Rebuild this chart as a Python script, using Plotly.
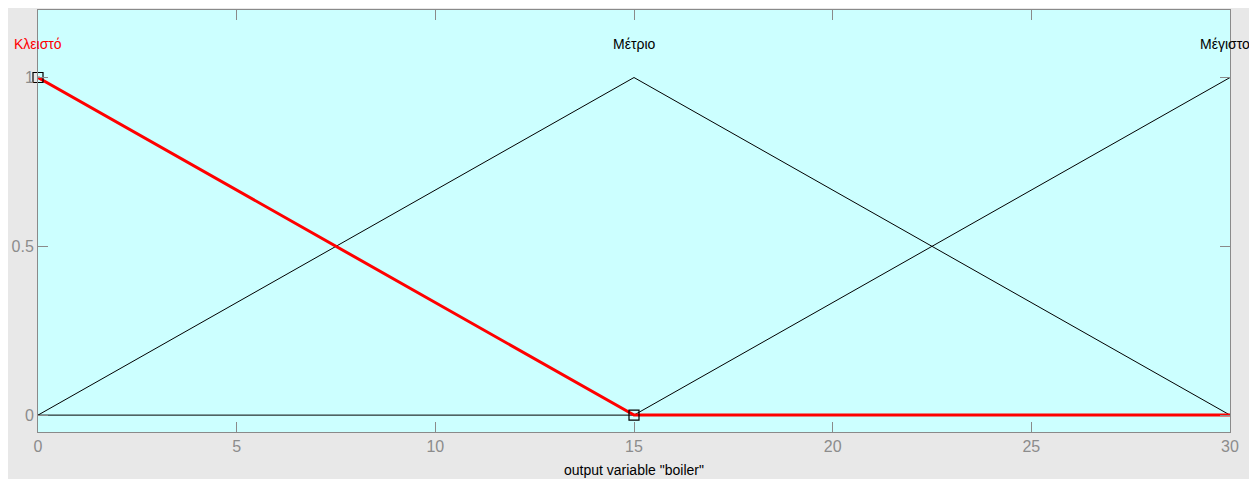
import plotly.graph_objects as go

# Data
x_points = [0, 15, 30]
mf_names = ["Κλειστό", "Μέτριο", "Μέγιστο"]
kleisto = [1, 0, 0]
metrio = [0, 1, 0]
megisto = [0, 0, 1]
label_x = [0, 15, 30]
label_y = 1.1
x_ticks = [0, 5, 10, 15, 20, 25, 30]
y_ticks = [0, 0.5, 1]
y_tick_text = ["0", "0.5", "1"]
x_title = 'output variable "boiler"'

# page body has an 8px margin
W, H = 1249, 471
L, R, T, B = 30, 27, 2, 47
pw, ph = W - L - R, H - T - B
FONT = "Liberation Sans, Arial"

fig = go.Figure()
fig.add_trace(go.Scatter(x=x_points, y=metrio, mode="lines",
                         line=dict(color="black", width=1), showlegend=False))
fig.add_trace(go.Scatter(x=x_points, y=megisto, mode="lines",
                         line=dict(color="black", width=1), showlegend=False))
fig.add_trace(go.Scatter(x=x_points, y=kleisto, mode="lines",
                         line=dict(color="red", width=3), showlegend=False))
fig.add_trace(go.Scatter(x=x_points[:2], y=kleisto[:2], mode="markers",
                         marker=dict(symbol="square-open", size=10, color="black",
                                     line=dict(width=1.2)),
                         cliponaxis=False, showlegend=False))

colors = ["red", "black", "black"]
shifts = [0, 0, -5]
for name, lx, c, sh in zip(mf_names, label_x, colors, shifts):
    fig.add_annotation(x=lx, y=label_y, text=name, showarrow=False, xshift=sh,
                       font=dict(color=c, size=14, family=FONT),
                       xanchor="center", yanchor="middle")

# x-axis title
fig.add_annotation(x=0.5, y=-38 / ph, xref="paper", yref="paper", text=x_title,
                   showarrow=False, xanchor="center", yanchor="middle",
                   font=dict(color="black", size=14, family=FONT))

axis_common = dict(showgrid=False, zeroline=False, showline=True, mirror="ticks",
                   linecolor="#8a8a8a", linewidth=1, ticks="inside", ticklen=10,
                   tickcolor="#8a8a8a",
                   tickfont=dict(color="#8c8c8c", size=16, family=FONT))

fig.update_layout(
    width=W, height=H,
    margin=dict(l=L, r=R, t=T, b=B, autoexpand=False),
    paper_bgcolor="#e8e8e8",
    plot_bgcolor="#ccffff",
    xaxis=dict(range=[0, 30], tickvals=x_ticks, **axis_common),
    yaxis=dict(range=[-0.05, 1.2], tickvals=y_ticks, ticktext=y_tick_text, **axis_common),
)

fig.write_html("out.html")
